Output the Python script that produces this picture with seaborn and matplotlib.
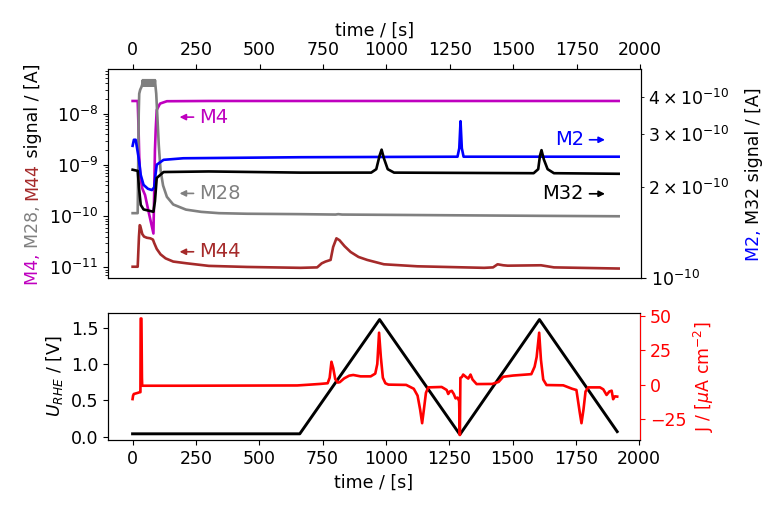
import numpy as np
import matplotlib
matplotlib.use("Agg")
import matplotlib.pyplot as plt
import seaborn as sns

# ---------------- data ----------------
# top panel, left axis
m4_t = [0, 20, 23, 26, 30, 38, 49, 65, 82, 85, 88, 91, 95, 108, 135, 300, 1000, 1915]
m4_v = [1.8e-8, 1.8e-8, 6e-9, 1.5e-9, 6e-10, 3.5e-10, 2.6e-10, 1.1e-10, 4.6e-11, 3e-10, 2e-9,
        5e-9, 1.2e-8, 1.6e-8, 1.78e-8, 1.8e-8, 1.8e-8, 1.8e-8]

m28_t = [0, 20, 22, 24, 26, 30, 35, 38,
         40, 42, 44, 46, 48, 50, 52, 54, 56, 58, 60, 62, 64, 66, 68, 70, 72, 74, 76, 78, 80,
         82, 84, 86, 88, 89,
         93, 98, 103, 110, 120, 135, 160, 210, 270, 340, 450, 662, 800, 810, 825, 1200, 1600, 1915]
m28_v = [1.15e-10, 1.15e-10, 1e-9, 1e-8, 2.5e-8, 3e-8, 3.4e-8, 3.8e-8,
         4.6e-8, 3.6e-8, 4.6e-8, 3.6e-8, 4.6e-8, 3.6e-8, 4.6e-8, 3.6e-8, 4.6e-8, 3.6e-8, 4.6e-8,
         3.6e-8, 4.6e-8, 3.6e-8, 4.6e-8, 3.6e-8, 4.6e-8, 3.6e-8, 4.6e-8, 3.6e-8, 4.6e-8,
         3.6e-8, 4.6e-8, 3.6e-8, 4.6e-8, 4.0e-8,
         2.5e-8, 8e-9, 2.5e-9, 8e-10, 4e-10, 2.4e-10, 1.7e-10, 1.35e-10, 1.22e-10, 1.15e-10,
         1.12e-10, 1.1e-10, 1.08e-10, 1.1e-10, 1.08e-10, 1.05e-10, 1.02e-10, 1.0e-10]

m44_t = [0, 20, 25, 28, 30, 38, 45, 56, 70, 80, 85, 95, 110, 130, 160, 214, 300, 450, 662,
         727, 745, 760, 780, 790, 803, 815, 835, 859, 890, 924, 990, 1122, 1385, 1420, 1438,
         1460, 1478, 1609, 1660, 1915]
m44_v = [1.03e-11, 1.03e-11, 4e-11, 6.7e-11, 6.5e-11, 4.5e-11, 4e-11, 3.8e-11, 3.7e-11, 3.5e-11,
         3e-11, 2.3e-11, 1.8e-11, 1.5e-11, 1.3e-11, 1.2e-11, 1.07e-11, 1.02e-11, 9.8e-12,
         1e-11, 1.2e-11, 1.3e-11, 1.4e-11, 2.5e-11, 3.7e-11, 3.4e-11, 2.6e-11, 2.0e-11,
         1.6e-11, 1.4e-11, 1.15e-11, 1.05e-11, 9.8e-12, 1.0e-11, 1.15e-11, 1.1e-11, 1.08e-11,
         1.1e-11, 1.0e-11, 9.5e-12]

# top panel, right axis
m2_t = [0, 5, 12, 16, 24, 32, 43, 60, 76, 85, 90, 95, 122, 200, 662, 1280, 1287, 1292, 1297,
        1304, 1915]
m2_v = [2.75e-10, 2.88e-10, 2.88e-10, 2.75e-10, 2.5e-10, 2.2e-10, 2.04e-10, 1.98e-10, 1.96e-10,
        2.0e-10, 2.2e-10, 2.38e-10, 2.47e-10, 2.5e-10, 2.52e-10, 2.53e-10, 2.7e-10, 3.32e-10,
        2.7e-10, 2.53e-10, 2.53e-10]

m32_t = [0, 20, 25, 32, 43, 82, 88, 95, 122, 300, 662, 940, 960, 973, 981, 990, 1005, 1030,
         1580, 1598, 1605, 1611, 1620, 1635, 1660, 1915]
m32_v = [2.29e-10, 2.27e-10, 2.0e-10, 1.75e-10, 1.69e-10, 1.66e-10, 1.8e-10, 2.15e-10,
         2.25e-10, 2.26e-10, 2.24e-10, 2.24e-10, 2.3e-10, 2.55e-10, 2.67e-10, 2.5e-10, 2.3e-10,
         2.24e-10, 2.23e-10, 2.3e-10, 2.55e-10, 2.66e-10, 2.48e-10, 2.3e-10, 2.23e-10, 2.22e-10]

# bottom panel
u_t = [0, 660, 975, 1292, 1606, 1913]
u_v = [0.04, 0.04, 1.61, 0.03, 1.61, 0.07]

j_t = [0, 2, 5, 22, 28, 31, 32, 35, 37, 38, 200, 650, 700, 740, 770, 778, 785, 792, 800, 810,
       818, 835, 855, 871, 900, 940, 958, 966, 973, 980, 988, 998, 1010, 1080, 1110, 1125, 1135,
       1143, 1150, 1158, 1167, 1220, 1232, 1240, 1246, 1252, 1260, 1268, 1275, 1283, 1289, 1292,
       1294, 1300, 1305, 1316, 1325, 1334, 1342, 1358, 1420, 1445, 1463, 1502, 1574, 1587, 1595,
       1605, 1612, 1621, 1634, 1700, 1735, 1752, 1765, 1772, 1780, 1788, 1799, 1845, 1858, 1871,
       1882, 1891, 1897, 1904, 1913]
j_v = [-10.5, -8, -6.8, -5.9, -5.5, -5.5, 48, 48, 5, -0.8, -0.8, -0.6, 0.0, 0.5, 1.0, 5, 16.6,
       12, 4, 1.5, 1.8, 4.5, 6.5, 7.0, 6.0, 6.0, 8, 15, 37.7, 20, 5, 1.0, 0, -0.2, -3, -8, -18,
       -28, -18, -6, -2, -1.7, -3, -3.9, -6.8, -5, -4.5, -6.8, -10, -9.4, -12, -36.6,
       4.9, 5.5, 7.3, 5.6, 4.4, 7.3, 3.7, 0.4, 0.5, 2, 5.7, 6.6, 7.6, 13, 20,
       37.7, 18, 3.7, -0.3, -0.5, -3, -3.9, -20, -28, -18, -5, -2, -2, -3.4, -7.5,
       -5, -4.4, -10.6, -8.5, -8.7]

time_ticks = [0, 250, 500, 750, 1000, 1250, 1500, 1750, 2000]

# ---------------- figure ----------------
FS = 12.5
plt.rcParams['font.size'] = FS
W, H = 780, 514
fig = plt.figure(figsize=(W / 100, H / 100), dpi=100)

ax1 = fig.add_axes([108 / W, (H - 278) / H, (641 - 108) / W, (278 - 69) / H])
ax2 = fig.add_axes([108 / W, (H - 440) / H, (640 - 108) / W, (440 - 313) / H])

XLIM = (-97, 2003)

c_m4, c_m28, c_m44 = '#bf00bf', 'grey', '#a52a2a'
c_m2, c_m32 = 'blue', 'black'
LW = 1.9

ax1.set_yscale('log')
kw = dict(sort=False, estimator=None, legend=False)
sns.lineplot(x=m4_t, y=m4_v, ax=ax1, color=c_m4, lw=LW, **kw)
sns.lineplot(x=m28_t, y=m28_v, ax=ax1, color=c_m28, lw=LW, **kw)
sns.lineplot(x=m44_t, y=m44_v, ax=ax1, color=c_m44, lw=LW, **kw)
ax1.set_ylim(6.2e-12, 7.6e-8)
ax1.set_xlim(*XLIM)
ax1.set_xticks(time_ticks)
ax1.xaxis.tick_top()
ax1.xaxis.set_label_position('top')
ax1.set_xlabel('time / [s]')
ax1.set_ylabel('')

ax1r = ax1.twinx()
ax1r.set_yscale('log')
sns.lineplot(x=m2_t, y=m2_v, ax=ax1r, color=c_m2, lw=LW, **kw)
sns.lineplot(x=m32_t, y=m32_v, ax=ax1r, color=c_m32, lw=LW, **kw)
ax1r.set_ylim(1e-10, 4.95e-10)
ax1r.set_xlim(*XLIM)
ax1r.set_ylabel('')

ap = lambda c: dict(arrowstyle='-|>', color=c, lw=1.2, mutation_scale=9, shrinkA=2, shrinkB=0)
AFS = 14
ax1.annotate('M4', xy=(185, 8.7e-9), xytext=(262, 8.7e-9), va='center', ha='left',
             color=c_m4, fontsize=AFS, arrowprops=ap(c_m4))
ax1.annotate('M28', xy=(185, 2.8e-10), xytext=(262, 2.8e-10), va='center', ha='left',
             color=c_m28, fontsize=AFS, arrowprops=ap(c_m28))
ax1.annotate('M44', xy=(185, 2.02e-11), xytext=(262, 2.02e-11), va='center', ha='left',
             color=c_m44, fontsize=AFS, arrowprops=ap(c_m44))
ax1r.annotate('M2', xy=(1861, 2.88e-10), xytext=(1778, 2.88e-10), va='center', ha='right',
              color=c_m2, fontsize=AFS, arrowprops=ap(c_m2))
ax1r.annotate('M32', xy=(1861, 1.905e-10), xytext=(1778, 1.905e-10), va='center', ha='right',
              color=c_m32, fontsize=AFS, arrowprops=ap(c_m32))

# bottom panel
sns.lineplot(x=u_t, y=u_v, ax=ax2, color='black', lw=2.1, **kw)
ax2.set_xlim(*XLIM)
ax2.set_ylim(-0.045, 1.70)
ax2.set_xticks(time_ticks)
ax2.set_yticks([0.0, 0.5, 1.0, 1.5])
ax2.set_xlabel('time / [s]')
ax2.set_ylabel(r'$U_{RHE}$ / [V]')

ax2r = ax2.twinx()
sns.lineplot(x=j_t, y=j_v, ax=ax2r, color='red', lw=1.9, **kw)
ax2r.set_ylim(-40.2, 52)
ax2r.set_yticks([-25, 0, 25, 50])
ax2r.set_xlim(*XLIM)
ax2r.set_ylabel(r'J / [$\mu$A cm$^{-2}$]', color='red')
ax2r.tick_params(axis='y', colors='red')
ax2r.spines['right'].set_color('red')

# ---------------- multicolour y labels ----------------
renderer = fig.canvas.get_renderer()


def text_width(s, fs):
    t = fig.text(0.5, 0.5, s + '|', fontsize=fs)
    w1 = t.get_window_extent(renderer).width
    t.remove()
    t = fig.text(0.5, 0.5, '|', fontsize=fs)
    w2 = t.get_window_extent(renderer).width
    t.remove()
    return w1 - w2


def multicolor_vlabel_up(x_px, yc_px, pieces, fs=FS):
    # text reads bottom->top; positions in pixels from the top-left corner
    full = ''.join(p for p, _ in pieces)
    L = text_width(full, fs)
    ybot = yc_px + L / 2
    prefix = ''
    for s, c in pieces:
        off = text_width(prefix, fs) if prefix else 0.0
        fig.text(x_px / W, (H - (ybot - off)) / H, s, color=c, fontsize=fs, rotation=90,
                 rotation_mode='anchor', ha='left', va='baseline')
        prefix += s


multicolor_vlabel_up(37.5, 174, [('M4, ', c_m4), ('M28, ', c_m28), ('M44', c_m44),
                                  (' signal / [A]', 'black')])
multicolor_vlabel_up(759, 174, [('M2, ', c_m2), ('M32 signal / [A]', 'black')])

fig.savefig('out.png', dpi=100)
